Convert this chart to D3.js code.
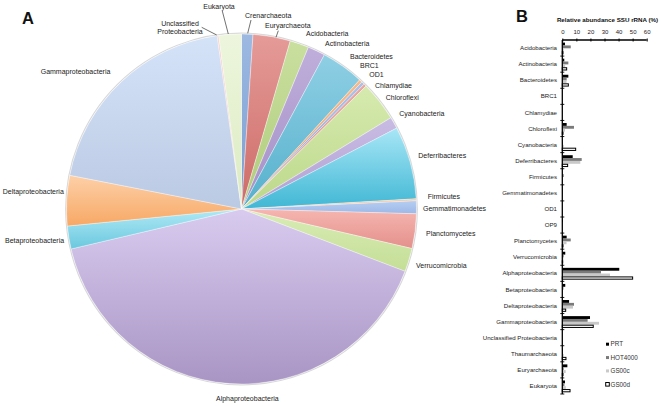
<!DOCTYPE html>
<html><head><meta charset="utf-8">
<script src="https://cdn.jsdelivr.net/npm/d3@7"></script>
<style>
html,body{margin:0;padding:0;background:#fff;}
svg{display:block;font-family:"Liberation Sans",Arial,sans-serif;}
</style></head>
<body>
<svg id="chart" width="661" height="406"></svg>
<script>
// ---------- DATA ----------
const pieCategories = ["Crenarchaeota","Euryarchaeota","Acidobacteria","Actinobacteria","Bacteroidetes","BRC1","OD1","Chlamydiae","Chloroflexi","Cyanobacteria","Deferribacteres","Firmicutes","Gemmatimonadetes","Planctomycetes","Verrucomicrobia","Alphaproteobacteria","Betaproteobacteria","Deltaproteobacteria","Gammaproteobacteria","Unclassified Proteobacteria","Eukaryota"];
const pieValues = [1.05,3.44,1.75,1.61,3.94,0.28,0.28,0.25,3.67,1.08,6.72,0.17,1.19,3.19,2.17,40.53,2.11,4.64,19.69,0.14,2.08];

const barCategories = ["Acidobacteria","Actinobacteria","Bacteroidetes","BRC1","Chlamydiae","Chloroflexi","Cyanobacteria","Deferribacteres","Firmicutes","Gemmatimonadetes","OD1","OP9","Planctomycetes","Verrucomicrobia","Alphaproteobacteria","Betaproteobacteria","Deltaproteobacteria","Gammaproteobacteria","Unclassified Proteobacteria","Thaumarchaeota","Euryarchaeota","Eukaryota"];
const seriesNames = ["PRT","HOT4000","GS00c","GS00d"];
const PRT     = [1.9,1.4,4.3,0.0,0.1,3.1,0.2,7.4,0.1,0.2,0.0,0.5,3.1,2.1,40.5,2.1,4.8,19.7,0.0,0.5,3.6,1.9];
const HOT4000 = [6.0,4.3,3.1,0.0,0.0,8.3,0.5,13.8,1.0,0.2,0.0,0.2,6.0,1.0,27.5,0.8,8.3,18.0,0.0,0.5,1.0,1.5];
const GS00c   = [1.0,2.0,3.0,0.0,0.0,1.9,1.0,12.8,0.3,0.3,0.0,0.1,3.0,0.8,33.9,0.5,7.6,26.1,0.0,1.0,2.4,2.5];
const GS00d   = [0.5,3.1,4.3,0.0,0.0,0.5,9.5,3.8,0.0,0.0,0.0,0.0,0.5,0.3,50.0,0.0,2.4,22.0,0.0,2.6,0.5,5.5];
const xTicks = [0,10,20,30,40,50,60];

// ---------- STYLE / LAYOUT ----------
const font = '"Liberation Sans",Arial,sans-serif';
const sliceColors = [
 ["#9db9e2","#7a9dd0"],["#e59b98","#cd6b67"],["#c9df9f","#b0cc7c"],["#bfaedb","#a590c7"],
 ["#8fcfe4","#55b0cc"],["#f9b98a","#f39a5a"],["#a8c2ea","#8aaadd"],["#eba7a5","#db8985"],
 ["#d6eaaf","#bcd88a"],["#c9bce3","#b0a0d3"],["#a8e6f6","#40b7d4"],["#fbc79f","#f6aa70"],
 ["#b6cef2","#9cb8e6"],["#f6b6b1","#e4908b"],["#d9ecb6","#c4de96"],["#d8cbef","#a995c4"],
 ["#b0e9f6","#6ac8de"],["#fdd0a8","#f7a865"],["#d4e3f8","#bbcae3"],["#f7cfcc","#f0b8b4"],
 ["#edf6dd","#dcebc2"]];
// label anchor positions (text layout)
const pieLabelPos = {
 "Crenarchaeota":[245,17.5,"start"],"Euryarchaeota":[265,28.2,"start"],"Acidobacteria":[306,35.8,"start"],
 "Actinobacteria":[325,45.8,"start"],"Bacteroidetes":[350,59.2,"start"],"BRC1":[360,67.5,"start"],
 "OD1":[369.3,76.5,"start"],"Chlamydiae":[375,87.5,"start"],"Chloroflexi":[385.7,99.8,"start"],
 "Cyanobacteria":[399.3,115.8,"start"],"Deferribacteres":[418.3,157.5,"start"],"Firmicutes":[427.7,199.2,"start"],
 "Gemmatimonadetes":[423,210.8,"start"],"Planctomycetes":[426,235.5,"start"],"Verrucomicrobia":[416,268.2,"start"],
 "Alphaproteobacteria":[216,400.8,"start"],"Betaproteobacteria":[5,242.5,"start"],"Deltaproteobacteria":[2.7,194.2,"start"],
 "Gammaproteobacteria":[40.7,74.2,"start"],"Eukaryota":[219,8.5,"middle"]};
const leaders = {
 "Crenarchaeota":[[251,20],[247.7,33.3]],"Euryarchaeota":[[278.3,30.7],[276,37.3]],
 "Eukaryota":[[222.3,11],[228.3,34]],"Unclassified Proteobacteria":[[201.7,27.3],[216.7,35]]};

const svg = d3.select("#chart");
const defs = svg.append("defs");

// ---------- PIE ----------
const cx = 241.5, cy = 209, R = 175;
const pie = d3.pie().sort(null).value(d => d)(pieValues);
const arc = d3.arc().innerRadius(0).outerRadius(R);
const gPie = svg.append("g").attr("transform", `translate(${cx},${cy})`);

pie.forEach((p, i) => {
  const g = defs.append("linearGradient").attr("id", "sg" + i)
    .attr("x1", 0).attr("y1", 0).attr("x2", 0).attr("y2", 1);
  g.append("stop").attr("offset", "0%").attr("stop-color", sliceColors[i][0]);
  g.append("stop").attr("offset", "100%").attr("stop-color", sliceColors[i][1]);
});
// soft halo
gPie.append("circle").attr("r", R + 0.8).attr("fill", "none")
  .attr("stroke", "#d8d8d8").attr("stroke-width", 1.2);
gPie.selectAll("path.slice").data(pie).join("path")
  .attr("class", "slice")
  .attr("d", arc)
  .attr("fill", (d, i) => `url(#sg${i})`)
  .attr("stroke", "#ffffff").attr("stroke-opacity", 0.7).attr("stroke-width", 0.5);

// pie labels
const gLab = svg.append("g").attr("font-size", 7).attr("fill", "#222");
pieCategories.forEach(name => {
  if (name === "Unclassified Proteobacteria") {
    gLab.append("text").attr("x", 180).attr("y", 25.5).attr("text-anchor", "middle").text("Unclassified");
    gLab.append("text").attr("x", 180).attr("y", 34.2).attr("text-anchor", "middle").text("Proteobacteria");
  } else {
    const p = pieLabelPos[name];
    gLab.append("text").attr("x", p[0]).attr("y", p[1]).attr("text-anchor", p[2]).text(name);
  }
  if (leaders[name]) {
    const l = leaders[name];
    gLab.append("line").attr("x1", l[0][0]).attr("y1", l[0][1]).attr("x2", l[1][0]).attr("y2", l[1][1])
      .attr("stroke", "#333").attr("stroke-width", 0.7);
  }
});

svg.append("text").attr("x", 22).attr("y", 23.5).attr("font-size", 16.5).attr("font-weight", "bold").attr("fill", "#111").text("A");
svg.append("text").attr("x", 516).attr("y", 22).attr("font-size", 16.5).attr("font-weight", "bold").attr("fill", "#111").text("B");

// ---------- BAR CHART ----------
const x0 = 562.3, x1 = 646.7, yTop = 40, yBot = 394;
const x = d3.scaleLinear().domain([0, 60]).range([x0, x1]);
const y = d3.scaleBand().domain(barCategories).range([yTop, yBot]).padding(0);
const bw = y.bandwidth();
const ys = d3.scaleBand().domain(seriesNames).range([bw * 0.16, bw * 0.87]).padding(0);
const seriesData = {PRT, HOT4000, GS00c, GS00d};
const seriesFill = {PRT: "#000", HOT4000: "#7a7a7a", GS00c: "#c9c9c9", GS00d: "#fff"};

const gBar = svg.append("g");
seriesNames.forEach(s => {
  gBar.selectAll(null).data(barCategories).join("rect")
    .attr("x", x(0))
    .attr("y", (c) => y(c) + ys(s) + (s === "GS00d" ? 0.5 : 0))
    .attr("width", (c, i) => Math.max(0, x(seriesData[s][i]) - x(0)))
    .attr("height", ys.bandwidth() - (s === "GS00d" ? 0.6 : 0))
    .attr("fill", seriesFill[s])
    .attr("stroke", s === "GS00d" ? "#000" : "none")
    .attr("stroke-width", s === "GS00d" ? 1 : 0);
});

// top axis
const xAxis = d3.axisTop(x).tickValues(xTicks).tickSize(2).tickPadding(4.5);
const gx = svg.append("g").attr("transform", `translate(0,${yTop})`).call(xAxis);
gx.select(".domain").attr("stroke", "#000").attr("stroke-width", 1.3).attr("d", `M${x0},0H${x1}`);
gx.selectAll(".tick line").attr("stroke", "#000").attr("stroke-width", 1).attr("y1", 1.5).attr("y2", -1.5);
gx.selectAll(".tick text").attr("font-size", 6).attr("font-family", font).attr("fill", "#222");

// left axis
const gy = svg.append("g").attr("transform", `translate(${x0},0)`);
gy.append("line").attr("x1", 0).attr("x2", 0).attr("y1", yTop).attr("y2", yBot).attr("stroke", "#000").attr("stroke-width", 1.3);
const bounds = barCategories.map(c => y(c)).concat([yBot]);
gy.selectAll("line.tk").data(bounds.slice(1)).join("line").attr("class", "tk")
  .attr("x1", -2).attr("x2", 2).attr("y1", d => d).attr("y2", d => d)
  .attr("stroke", "#000").attr("stroke-width", 0.9);
svg.append("g").attr("font-size", 6.1).attr("fill", "#222").attr("text-anchor", "end")
  .selectAll("text").data(barCategories).join("text")
  .attr("x", 557).attr("y", c => y(c) + bw / 2 + 2.1).text(c => c);

svg.append("text").attr("x", 607.5).attr("y", 22).attr("text-anchor", "middle")
  .attr("font-size", 6.2).attr("font-weight", "bold").attr("fill", "#111")
  .text("Relative abundance SSU rRNA (%)");

// legend
const legY = d3.scaleBand().domain(seriesNames).range([337.5, 391]);
const gLeg = svg.append("g").attr("font-size", 6.3).attr("fill", "#333");
seriesNames.forEach(s => {
  const yc = legY(s) + legY.bandwidth() / 2;
  const sz = s === "GS00d" ? 3.6 : 3;
  gLeg.append("rect").attr("x", 607.5 - sz / 2).attr("y", yc - sz / 2).attr("width", sz).attr("height", sz)
    .attr("fill", seriesFill[s]).attr("stroke", s === "GS00d" ? "#000" : "none").attr("stroke-width", 1);
  gLeg.append("text").attr("x", 610.5).attr("y", yc + 2.2).text(s);
});
</script>
</body></html>
